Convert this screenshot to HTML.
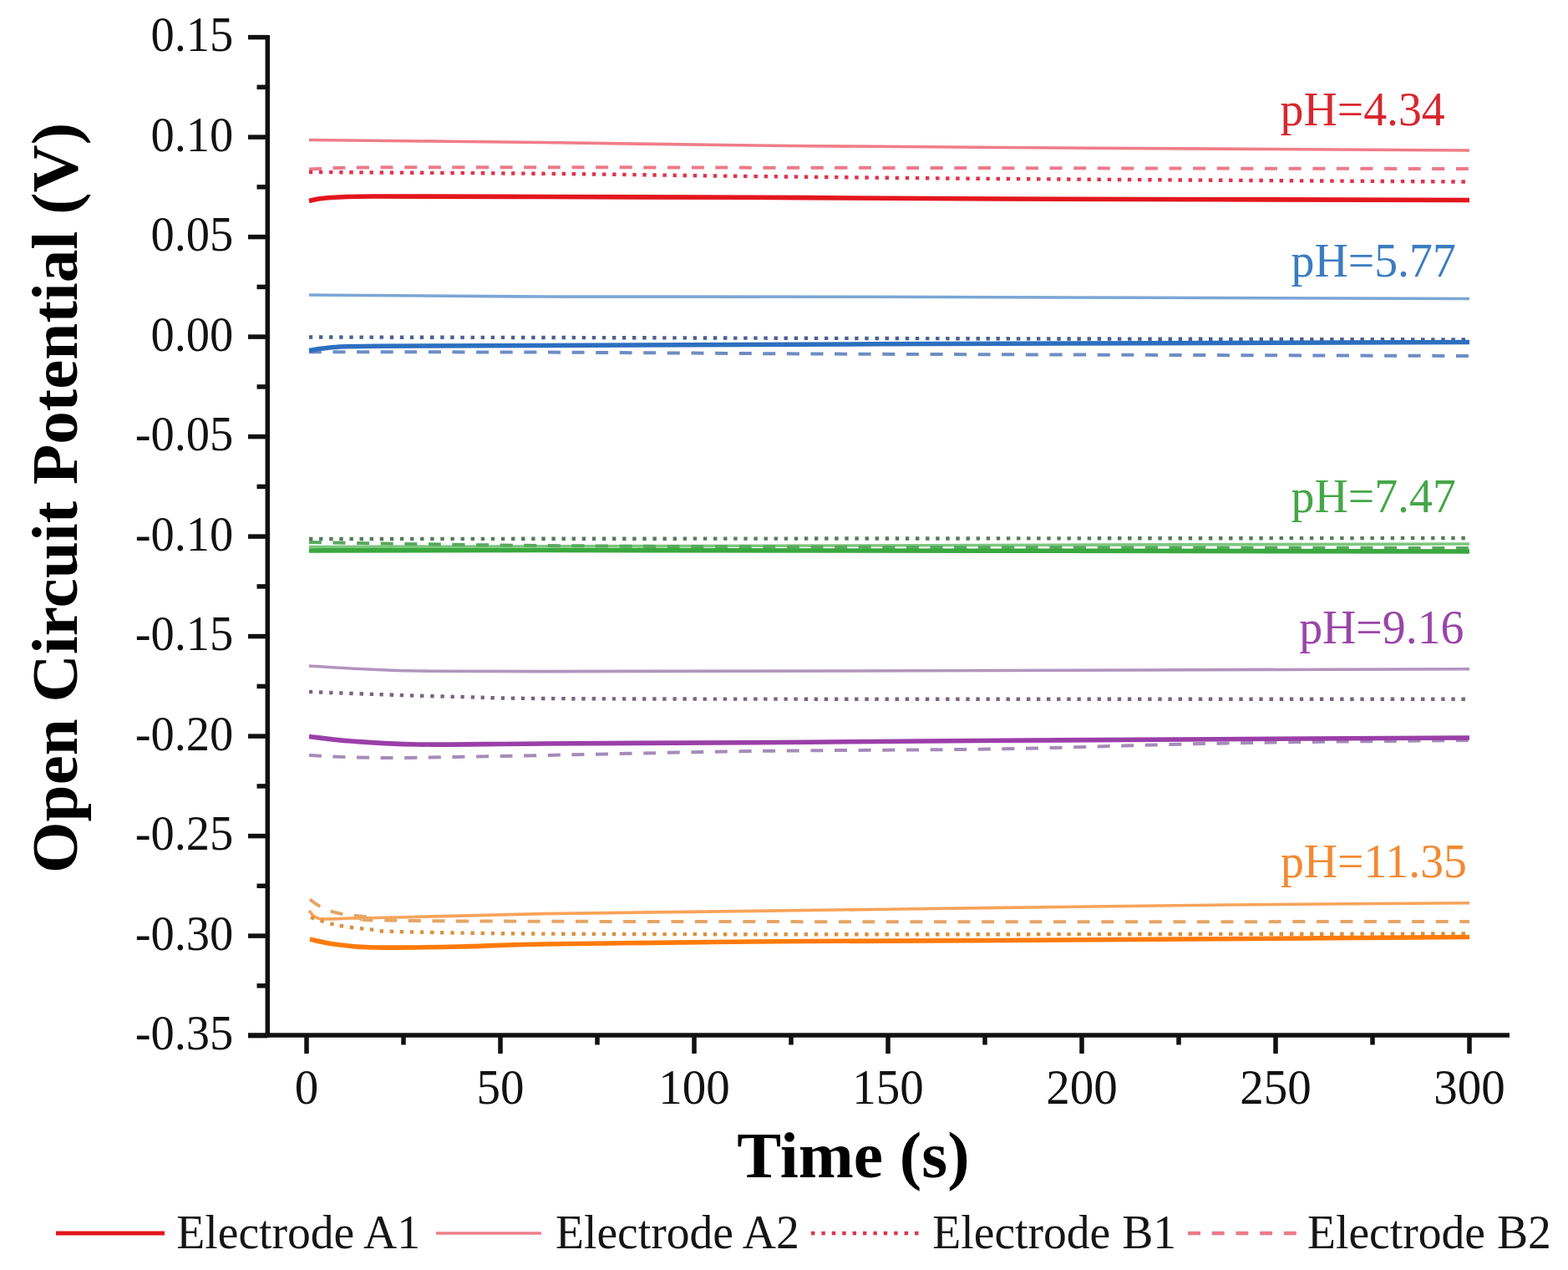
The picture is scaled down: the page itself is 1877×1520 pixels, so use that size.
<!DOCTYPE html>
<html><head><meta charset="utf-8"><title>Open Circuit Potential vs Time</title>
<style>html,body{margin:0;padding:0;background:#fff;width:1877px;height:1520px;overflow:hidden}svg{display:block}</style>
</head><body>
<svg width="1877" height="1520" viewBox="0 0 1877 1520">
<rect width="100%" height="100%" fill="#ffffff"/>
<g>
<path d="M370.0,167.5 C416.7,168.0 561.7,169.4 650.0,170.5 C738.3,171.6 808.3,173.0 900.0,174.0 C991.7,175.0 1056.8,175.5 1200.0,176.5 C1343.2,177.5 1665.8,179.4 1759.0,180.0" fill="none" stroke="#f07d87" stroke-width="3.6"/>
<path d="M370.0,202.5 C388.3,202.1 375.0,200.5 480.0,200.2 C585.0,199.9 846.7,200.6 1000.0,200.8 C1153.3,201.0 1273.5,201.3 1400.0,201.5 C1526.5,201.7 1699.2,201.9 1759.0,202.0" fill="none" stroke="#ec7a8a" stroke-width="4.0" stroke-dasharray="15 13.6"/>
<path d="M370.0,206.0 C416.7,206.3 561.7,207.0 650.0,207.8 C738.3,208.6 808.3,210.0 900.0,211.0 C991.7,212.0 1056.8,212.9 1200.0,214.0 C1343.2,215.1 1665.8,217.0 1759.0,217.6" fill="none" stroke="#e0334d" stroke-width="4.4" stroke-dasharray="4.4 7.7"/>
<path d="M370.0,240.5 C373.3,239.9 377.3,237.9 390.0,237.0 C402.7,236.1 402.7,235.2 446.0,235.0 C489.3,234.8 574.3,235.3 650.0,235.5 C725.7,235.7 808.3,235.9 900.0,236.3 C991.7,236.7 1056.8,237.5 1200.0,238.0 C1343.2,238.5 1665.8,239.2 1759.0,239.5" fill="none" stroke="#e3161d" stroke-width="5.6"/>
<path d="M370.0,353.0 C416.7,353.3 536.7,354.6 650.0,355.0 C763.3,355.4 865.2,354.9 1050.0,355.3 C1234.8,355.7 1640.8,357.1 1759.0,357.5" fill="none" stroke="#7ba6d6" stroke-width="3.6"/>
<path d="M370.0,421.3 C416.7,421.4 536.7,421.2 650.0,421.6 C763.3,422.0 865.2,423.1 1050.0,423.8 C1234.8,424.5 1640.8,425.6 1759.0,426.0" fill="none" stroke="#6f8cc4" stroke-width="4.0" stroke-dasharray="15 13.6"/>
<path d="M370.0,403.5 C416.7,403.6 536.7,403.8 650.0,404.0 C763.3,404.2 865.2,404.6 1050.0,405.0 C1234.8,405.4 1640.8,406.2 1759.0,406.5" fill="none" stroke="#4a6090" stroke-width="4.4" stroke-dasharray="4.4 7.7"/>
<path d="M370.0,419.5 C375.0,418.8 386.7,416.4 400.0,415.5 C413.3,414.6 408.3,414.6 450.0,414.3 C491.7,414.0 550.0,413.9 650.0,413.5 C750.0,413.1 865.2,412.5 1050.0,411.8 C1234.8,411.1 1640.8,409.9 1759.0,409.5" fill="none" stroke="#2c6fbf" stroke-width="5.6"/>
<path d="M370.0,654.5 C475.0,654.2 768.5,653.6 1000.0,653.0 C1231.5,652.4 1632.5,651.3 1759.0,651.0" fill="none" stroke="#7cc77e" stroke-width="3.6"/>
<path d="M370.0,649.0 C416.7,649.7 528.3,652.0 650.0,653.0 C771.7,654.0 915.2,654.5 1100.0,655.0 C1284.8,655.5 1649.2,655.8 1759.0,656.0" fill="none" stroke="#5aa860" stroke-width="4.0" stroke-dasharray="15 13.6"/>
<path d="M370.0,645.0 L1759.0,644.0" fill="none" stroke="#557a58" stroke-width="4.4" stroke-dasharray="4.4 7.7"/>
<path d="M370.0,659.0 C416.7,658.9 418.5,658.3 650.0,658.5 C881.5,658.7 1574.2,659.8 1759.0,660.0" fill="none" stroke="#3aa83e" stroke-width="5.6"/>
<path d="M370.0,797.0 C378.3,797.5 398.3,799.0 420.0,800.0 C441.7,801.0 461.7,802.4 500.0,803.0 C538.3,803.6 566.7,803.6 650.0,803.6 C733.3,803.6 815.2,803.5 1000.0,803.0 C1184.8,802.5 1632.5,801.1 1759.0,800.7" fill="none" stroke="#b294bd" stroke-width="3.6"/>
<path d="M370.0,904.0 C385.0,904.5 413.3,907.0 460.0,907.0 C506.7,907.0 576.7,905.3 650.0,904.0 C723.3,902.7 808.3,900.3 900.0,899.0 C991.7,897.7 1105.0,897.9 1200.0,896.3 C1295.0,894.7 1376.8,891.1 1470.0,889.4 C1563.2,887.7 1710.8,886.6 1759.0,886.0" fill="none" stroke="#a48cb8" stroke-width="4.0" stroke-dasharray="15 13.6"/>
<path d="M370.0,828.0 C383.3,828.5 420.0,830.0 450.0,831.0 C480.0,832.0 516.7,833.2 550.0,834.0 C583.3,834.8 575.0,835.5 650.0,836.0 C725.0,836.5 815.2,836.6 1000.0,836.7 C1184.8,836.8 1632.5,836.7 1759.0,836.7" fill="none" stroke="#7a6282" stroke-width="4.4" stroke-dasharray="4.4 7.7"/>
<path d="M370.0,881.5 C378.3,882.4 398.3,885.4 420.0,887.0 C441.7,888.6 461.7,890.5 500.0,891.0 C538.3,891.5 583.3,890.4 650.0,890.0 C716.7,889.6 808.3,889.3 900.0,888.7 C991.7,888.1 1056.8,887.2 1200.0,886.3 C1343.2,885.3 1665.8,883.5 1759.0,883.0" fill="none" stroke="#9a3fa8" stroke-width="5.6"/>
<path d="M370.0,1090.0 C372.0,1091.6 373.7,1098.0 382.0,1099.5 C390.3,1101.0 404.5,1099.2 420.0,1099.0 C435.5,1098.8 436.7,1098.9 475.0,1098.0 C513.3,1097.1 579.2,1094.9 650.0,1093.6 C720.8,1092.3 808.3,1091.6 900.0,1090.4 C991.7,1089.2 1105.0,1087.6 1200.0,1086.4 C1295.0,1085.2 1376.8,1084.0 1470.0,1083.0 C1563.2,1082.0 1710.8,1081.1 1759.0,1080.7" fill="none" stroke="#f8a35a" stroke-width="3.6"/>
<path d="M371.0,1076.5 C373.0,1077.9 377.3,1082.0 383.0,1084.8 C388.7,1087.5 395.5,1090.9 405.0,1093.0 C414.5,1095.1 425.8,1096.0 440.0,1097.5 C454.2,1099.0 388.3,1101.0 490.0,1102.0 C591.7,1103.0 838.5,1103.0 1050.0,1103.2 C1261.5,1103.4 1640.8,1103.0 1759.0,1103.0" fill="none" stroke="#e6a566" stroke-width="4.0" stroke-dasharray="15 13.6"/>
<path d="M372.0,1098.0 C375.7,1099.2 387.7,1103.2 394.0,1105.0 C400.3,1106.8 404.0,1107.5 410.0,1108.5 C416.0,1109.5 423.3,1110.2 430.0,1111.0 C436.7,1111.8 442.5,1112.3 450.0,1113.0 C457.5,1113.7 441.7,1114.2 475.0,1115.0 C508.3,1115.8 554.2,1117.0 650.0,1117.6 C745.8,1118.1 865.2,1118.3 1050.0,1118.3 C1234.8,1118.3 1640.8,1117.6 1759.0,1117.5" fill="none" stroke="#d8923e" stroke-width="4.4" stroke-dasharray="4.4 7.7"/>
<path d="M371.0,1124.0 C375.8,1125.0 387.5,1128.3 400.0,1130.0 C412.5,1131.7 421.0,1133.5 446.0,1134.0 C471.0,1134.5 516.0,1133.7 550.0,1133.0 C584.0,1132.3 591.7,1131.0 650.0,1130.0 C708.3,1129.0 808.3,1127.8 900.0,1127.0 C991.7,1126.2 1056.8,1126.4 1200.0,1125.5 C1343.2,1124.6 1665.8,1122.2 1759.0,1121.5" fill="none" stroke="#ff7a0a" stroke-width="5.6"/>
<g stroke="#111111" stroke-width="5.5" fill="none">
<line x1="320.3" y1="42" x2="320.3" y2="1241.5"/>
<line x1="297" y1="1239" x2="1807" y2="1239"/>
<line x1="297" y1="44.6" x2="320" y2="44.6"/>
<line x1="297" y1="164.1" x2="320" y2="164.1"/>
<line x1="297" y1="283.6" x2="320" y2="283.6"/>
<line x1="297" y1="403.1" x2="320" y2="403.1"/>
<line x1="297" y1="522.6" x2="320" y2="522.6"/>
<line x1="297" y1="642.1" x2="320" y2="642.1"/>
<line x1="297" y1="761.6" x2="320" y2="761.6"/>
<line x1="297" y1="881.1" x2="320" y2="881.1"/>
<line x1="297" y1="1000.6" x2="320" y2="1000.6"/>
<line x1="297" y1="1120.1" x2="320" y2="1120.1"/>
<line x1="297" y1="1239.6" x2="320" y2="1239.6"/>
<line x1="307.5" y1="104.3" x2="320" y2="104.3"/>
<line x1="307.5" y1="223.8" x2="320" y2="223.8"/>
<line x1="307.5" y1="343.4" x2="320" y2="343.4"/>
<line x1="307.5" y1="462.9" x2="320" y2="462.9"/>
<line x1="307.5" y1="582.4" x2="320" y2="582.4"/>
<line x1="307.5" y1="701.9" x2="320" y2="701.9"/>
<line x1="307.5" y1="821.4" x2="320" y2="821.4"/>
<line x1="307.5" y1="940.9" x2="320" y2="940.9"/>
<line x1="307.5" y1="1060.3" x2="320" y2="1060.3"/>
<line x1="307.5" y1="1179.8" x2="320" y2="1179.8"/>
<line x1="367.0" y1="1239" x2="367.0" y2="1261"/>
<line x1="599.0" y1="1239" x2="599.0" y2="1261"/>
<line x1="831.0" y1="1239" x2="831.0" y2="1261"/>
<line x1="1063.0" y1="1239" x2="1063.0" y2="1261"/>
<line x1="1295.0" y1="1239" x2="1295.0" y2="1261"/>
<line x1="1527.0" y1="1239" x2="1527.0" y2="1261"/>
<line x1="1759.0" y1="1239" x2="1759.0" y2="1261"/>
<line x1="483.0" y1="1239" x2="483.0" y2="1250.5"/>
<line x1="715.0" y1="1239" x2="715.0" y2="1250.5"/>
<line x1="947.0" y1="1239" x2="947.0" y2="1250.5"/>
<line x1="1179.0" y1="1239" x2="1179.0" y2="1250.5"/>
<line x1="1411.0" y1="1239" x2="1411.0" y2="1250.5"/>
<line x1="1643.0" y1="1239" x2="1643.0" y2="1250.5"/>
</g>
<g font-family="Liberation Serif, serif" font-size="56.5" fill="#111" text-anchor="end">
<text transform="translate(279.3,61.1) scale(1,1.04)">0.15</text>
<text transform="translate(279.3,180.6) scale(1,1.04)">0.10</text>
<text transform="translate(279.3,300.1) scale(1,1.04)">0.05</text>
<text transform="translate(279.3,419.6) scale(1,1.04)">0.00</text>
<text transform="translate(279.3,539.1) scale(1,1.04)">-0.05</text>
<text transform="translate(279.3,658.6) scale(1,1.04)">-0.10</text>
<text transform="translate(279.3,778.1) scale(1,1.04)">-0.15</text>
<text transform="translate(279.3,897.6) scale(1,1.04)">-0.20</text>
<text transform="translate(279.3,1017.1) scale(1,1.04)">-0.25</text>
<text transform="translate(279.3,1136.6) scale(1,1.04)">-0.30</text>
<text transform="translate(279.3,1256.1) scale(1,1.04)">-0.35</text>
</g>
<g font-family="Liberation Serif, serif" font-size="57" fill="#111" text-anchor="middle">
<text transform="translate(367.0,1321.3) scale(1,1.04)">0</text>
<text transform="translate(599.0,1321.3) scale(1,1.04)">50</text>
<text transform="translate(831.0,1321.3) scale(1,1.04)">100</text>
<text transform="translate(1063.0,1321.3) scale(1,1.04)">150</text>
<text transform="translate(1295.0,1321.3) scale(1,1.04)">200</text>
<text transform="translate(1527.0,1321.3) scale(1,1.04)">250</text>
<text transform="translate(1759.0,1321.3) scale(1,1.04)">300</text>
</g>
<text x="882.3" y="1409.3" font-family="Liberation Serif, serif" font-weight="bold" font-size="79.3" fill="#000">Time (s)</text>
<text transform="translate(91.5,1045) rotate(-90)" x="0" y="0" font-family="Liberation Serif, serif" font-weight="bold" font-size="79.2" fill="#000">Open Circuit Potential (V)</text>
<g font-family="Liberation Serif, serif" font-size="55.8">
<text transform="translate(1532.5,149.7) scale(1,1.04)" fill="#d8272e">pH=4.34</text>
<text transform="translate(1545.6,331) scale(1,1.04)" fill="#3c7cc2">pH=5.77</text>
<text transform="translate(1545.6,612.7) scale(1,1.04)" fill="#46a648">pH=7.47</text>
<text transform="translate(1555.2,770.3) scale(1,1.04)" fill="#9a45a8">pH=9.16</text>
<text transform="translate(1532.9,1050.3) scale(1,1.04)" fill="#f28a32">pH=11.35</text>
</g>
<line x1="67" y1="1476" x2="197" y2="1476" stroke="#e3161d" stroke-width="5.2"/>
<line x1="522" y1="1476" x2="648" y2="1476" stroke="#ec7f8a" stroke-width="3.5"/>
<line x1="971" y1="1476" x2="1100" y2="1476" stroke="#e0334d" stroke-width="4.4" stroke-dasharray="4.4 8"/>
<line x1="1422" y1="1476" x2="1553" y2="1476" stroke="#ec7a8a" stroke-width="4.4" stroke-dasharray="15 13.7"/>
<g font-family="Liberation Serif, serif" font-size="55.6" fill="#151515">
<text transform="translate(211.3,1494) scale(1,1.04)">Electrode A1</text>
<text transform="translate(665,1494) scale(1,1.04)">Electrode A2</text>
<text transform="translate(1116.3,1494) scale(1,1.04)">Electrode B1</text>
<text transform="translate(1565,1494) scale(1,1.04)">Electrode B2</text>
</g>
</g>
</svg>
</body></html>
